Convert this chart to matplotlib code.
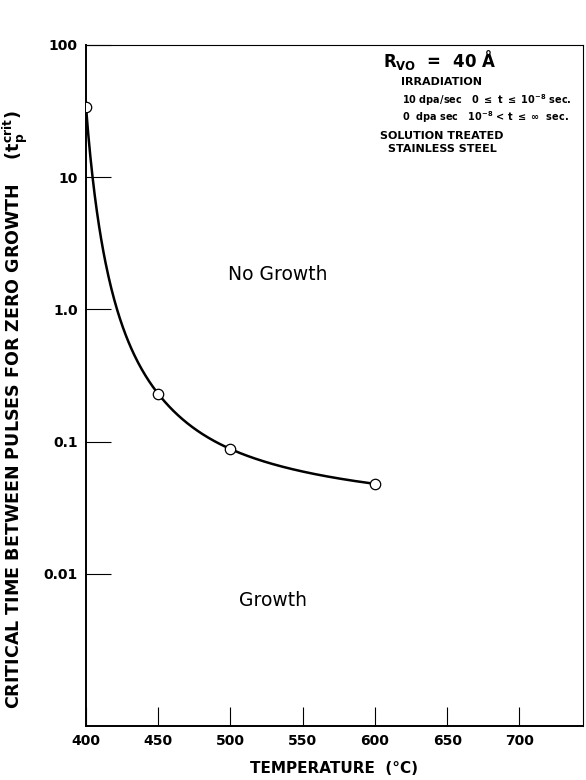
import matplotlib; matplotlib.use("Agg")
import matplotlib.pyplot as plt
import numpy as np

# data
temp_c = [400, 450, 500, 600]
t_crit = [34.0, 0.23, 0.088, 0.048]
x_ticks = [400, 450, 500, 550, 600, 650, 700]
y_ticks = [0.01, 0.1, 1.0, 10, 100]
y_tick_labels = ["0.01", "0.1", "1.0", "10", "100"]


def pchip(x, y, xs):
    # monotone cubic (Fritsch-Carlson) through the points
    x = np.asarray(x, float); y = np.asarray(y, float)
    h = np.diff(x); d = np.diff(y) / h
    m = np.zeros_like(y)
    for k in range(1, len(x) - 1):
        if d[k-1] * d[k] > 0:
            w1 = 2*h[k] + h[k-1]; w2 = h[k] + 2*h[k-1]
            m[k] = (w1 + w2) / (w1/d[k-1] + w2/d[k])
    m[0] = d[0]; m[-1] = d[-1]
    idx = np.clip(np.searchsorted(x, xs) - 1, 0, len(x) - 2)
    t = (xs - x[idx]) / h[idx]
    h00 = 2*t**3 - 3*t**2 + 1; h10 = t**3 - 2*t**2 + t
    h01 = -2*t**3 + 3*t**2; h11 = t**3 - t**2
    return h00*y[idx] + h10*h[idx]*m[idx] + h01*y[idx+1] + h11*h[idx]*m[idx+1]


# smooth curve: interpolate log(t) against 1/(T - T0)
T0 = 378.0
u = 1.0 / (np.array(temp_c) - T0)
order = np.argsort(u)
T_fine = np.linspace(temp_c[0], temp_c[-1], 400)
u_fine = 1.0 / (T_fine - T0)
logt = pchip(u[order], np.log10(np.array(t_crit))[order], u_fine)

plt.rcParams.update({"font.family": "DejaVu Sans", "font.weight": "semibold"})
fig = plt.figure(figsize=(5.86, 7.80), dpi=100)
ax = fig.add_axes([86/586, 1 - 726/780, (583-86)/586, (726-45)/780])

ax.plot(T_fine, 10**logt, color="black", lw=1.8)
ax.plot(temp_c, t_crit, "o", ms=7.5, mfc="white", mec="black", mew=0.9, zorder=3)

ax.set_yscale("log")
ax.set_xlim(400, 744)
ax.set_ylim(10**-3.15, 100)
ax.set_xticks(x_ticks)
ax.set_yticks(y_ticks)
ax.set_yticklabels(y_tick_labels)
ax.minorticks_off()
ax.tick_params(direction="in", length=14, width=0.8, labelsize=10, pad=6)
ax.tick_params(axis="y", length=18)
for s in ["left", "bottom"]:
    ax.spines[s].set_linewidth(1.4)
for s in ["top", "right"]:
    ax.spines[s].set_linewidth(0.8)

ax.set_xlabel("TEMPERATURE  (°C)", fontsize=11, fontweight="bold", labelpad=9)
ax.set_ylabel(r"CRITICAL TIME BETWEEN PULSES FOR ZERO GROWTH    ($\mathregular{t_p^{crit}}$)",
              fontsize=12.6, fontweight="bold")
ax.yaxis.set_label_coords(-0.113, 0.465)

tr = ax.transAxes
def at(px, py):
    return ((px - 86) / 497, (726 - py) / 681)

ax.text(*at(440, 60), r"R$_{\mathregular{VO}}$  =  40 Å", transform=tr, fontsize=12,
        ha="center", va="center")
ax.text(*at(442, 82), "IRRADIATION", transform=tr, fontsize=8, ha="center", va="center")
ax.text(*at(402, 100), r"10 dpa/sec   0 $\leq$ t $\leq$ 10$^{-8}$ sec.", transform=tr,
        fontsize=7, ha="left", va="center")
ax.text(*at(402, 117), r"0  dpa sec   10$^{-8}$ < t $\leq$ $\infty$  sec.", transform=tr,
        fontsize=7, ha="left", va="center")
ax.text(*at(442, 136), "SOLUTION TREATED", transform=tr, fontsize=8, ha="center", va="center")
ax.text(*at(442, 149), "STAINLESS STEEL", transform=tr, fontsize=8, ha="center", va="center")

ax.text(*at(278, 275), "No Growth", transform=tr, fontsize=13.5, fontweight="normal",
        ha="center", va="center")
ax.text(*at(273, 601), "Growth", transform=tr, fontsize=13.5, fontweight="normal",
        ha="center", va="center")

fig.savefig("out.png", dpi=100)
